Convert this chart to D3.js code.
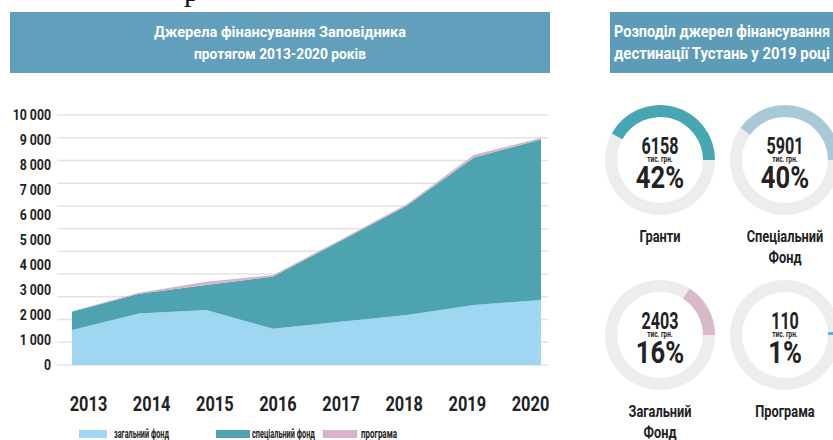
<!DOCTYPE html>
<html><head><meta charset="utf-8">
<script src="https://cdn.jsdelivr.net/npm/d3@7"></script>
<style>
html,body{margin:0;padding:0;background:#fff;}
svg{display:block;}
text{font-family:Roboto,"Noto Sans",sans-serif;font-weight:bold;}
</style></head>
<body>
<svg id="c" width="833" height="440"></svg>
<script>
// ---- data ----
const years = [2013, 2014, 2015, 2016, 2017, 2018, 2019, 2020];
const generalFund = [1400, 2060, 2200, 1450, 1730, 2000, 2403, 2600];
const specialFund = [730, 790, 1000, 2090, 3220, 4380, 5901, 6420];
const programme = [20, 40, 130, 60, 50, 60, 110, 60];
const seriesNames = ["загальний фонд", "спеціальний фонд", "програма"];
const yTicks = [0, 1000, 2000, 3000, 4000, 5000, 6000, 7000, 8000, 9000, 10000];
const leftTitle = ["Джерела фінансування Заповідника", "протягом 2013-2020 років"];
const rightTitle = ["Розподіл джерел фінансування", "дестинації Тустань у 2019 році"];
const donutNames = [["Гранти"], ["Спеціальний", "Фонд"], ["Загальний", "Фонд"], ["Програма"]];
const donutValues = [6158, 5901, 2403, 110];
const donutPercents = [42, 40, 16, 1];

const colors = ["#9fd6f1", "#4ea3b1", "#d7b3c8"];
const donutColors = ["#46a6b4", "#a9c9d9", "#d9b8c9", "#5aaee0"];

const svg = d3.select("#c");

// horizontal condensing helper (no condensed fonts installed)
function condense(sel, sx) {
  sel.each(function () {
    const t = d3.select(this);
    const x0 = +t.attr("x") || 0;
    t.attr("x", 0).attr("transform", `translate(${x0},0) scale(${sx},1)`);
  });
}

// stray glyph at the very top
svg.append("text").attr("x", 184).attr("y", 1).attr("font-size", 30)
  .style("font-family", "Liberation Serif, serif").style("font-weight", "normal")
  .attr("fill", "#111").text("р");

// ---- title bars ----
svg.append("rect").attr("x", 10).attr("y", 12).attr("width", 540).attr("height", 61).attr("fill", "#629fbc");
svg.append("rect").attr("x", 610).attr("y", 12).attr("width", 230).attr("height", 61).attr("fill", "#5d9cb9");
const ltLen = [252, 172];
svg.selectAll("text.lt").data(leftTitle).join("text").attr("class", "lt")
  .attr("x", 280).attr("y", (d, i) => 37 + i * 22).attr("text-anchor", "middle")
  .attr("font-size", 15).attr("fill", "#fff")
  .attr("textLength", (d, i) => ltLen[i]).attr("lengthAdjust", "spacingAndGlyphs").text(d => d);
svg.selectAll("text.rt").data(rightTitle).join("text").attr("class", "rt")
  .attr("x", 614).attr("y", (d, i) => 37 + i * 22)
  .attr("font-size", 16).attr("fill", "#fff")
  .attr("textLength", 216).attr("lengthAdjust", "spacingAndGlyphs").text(d => d);

// ---- area chart ----
const x = d3.scalePoint().domain(years).range([72, 541]);
const xLab = d3.scalePoint().domain(years).range([88, 530]);
const y = d3.scaleLinear().domain([0, 10000]).range([365, 115]);

// grid (12 evenly spaced rules as in the source)
const grid = d3.range(12).map(i => i * 10000 / 11);
svg.append("g").selectAll("line").data(grid).join("line")
  .attr("x1", 57).attr("x2", 548)
  .attr("y1", d => y(d)).attr("y2", d => y(d))
  .attr("stroke", "#e3e3e3").attr("stroke-width", 1.5);

const rows = years.map((yr, i) => ({year: yr, general: generalFund[i], special: specialFund[i], program: programme[i]}));
const stack = d3.stack().keys(["general", "special", "program"]);
const layers = stack(rows);
const area = d3.area().x(d => x(d.data.year)).y0(d => y(d[0])).y1(d => y(d[1]));
svg.append("g").selectAll("path").data(layers).join("path")
  .attr("d", area).attr("fill", (d, i) => colors[i]);

// y axis
const fmt = v => d3.format(",")(v).replace(/,/g, " ");
const yAxis = svg.append("g").attr("transform", "translate(51,0)")
  .call(d3.axisLeft(y).tickValues(yTicks).tickFormat(fmt).tickSize(0).tickPadding(0));
yAxis.select(".domain").remove();
yAxis.selectAll("text").attr("font-size", 14).attr("fill", "#222").attr("font-family", null);
condense(yAxis.selectAll("text"), 0.88);

// x axis labels
const xAxis = svg.append("g").attr("transform", "translate(0,404)")
  .call(d3.axisBottom(xLab).tickSize(0).tickPadding(0));
xAxis.select(".domain").remove();
xAxis.selectAll("text").attr("font-size", 19.5).attr("fill", "#222").attr("dy", "0.35em")
  .attr("font-family", null);
condense(xAxis.selectAll("text"), 0.84);

// legend
const legX = [79, 216, 323];
const legW = [28, 34, 34];
const legTextX = [114, 252, 361];
const legTextW = [55, 63, 36];
const leg = svg.append("g");
seriesNames.forEach((n, i) => {
  leg.append("rect").attr("x", legX[i]).attr("y", 430).attr("width", legW[i]).attr("height", 8).attr("fill", colors[i]);
  leg.append("text").attr("x", legTextX[i]).attr("y", 438)
    .attr("font-size", 13).attr("fill", "#222")
    .attr("textLength", legTextW[i]).attr("lengthAdjust", "spacingAndGlyphs").text(n);
});

// ---- donuts ----
const centers = [[660, 160], [785, 160], [660, 335], [785, 335]];
const rOut = 55, rIn = 43;
const arc = d3.arc().innerRadius(rIn).outerRadius(rOut);
donutValues.forEach((v, i) => {
  const g = svg.append("g").attr("transform", `translate(${centers[i][0]},${centers[i][1]})`);
  g.append("path").attr("d", arc({startAngle: 0, endAngle: 2 * Math.PI})).attr("fill", "#ededed");
  const share = donutPercents[i] / 100;
  g.append("path").attr("d", arc({startAngle: Math.PI / 2 - share * 2 * Math.PI, endAngle: Math.PI / 2}))
    .attr("fill", donutColors[i]);
  const t1 = g.append("text").attr("y", -6).attr("text-anchor", "middle").attr("font-size", 23).attr("fill", "#222").text(v);
  const t2 = g.append("text").attr("y", 2).attr("text-anchor", "middle").attr("font-size", 8.5).attr("fill", "#222").text("тис. грн.");
  const t3 = g.append("text").attr("y", 28).attr("text-anchor", "middle").attr("font-size", 32).attr("fill", "#222").text(donutPercents[i] + "%");
  condense(t1, 0.7); condense(t2, 0.75); condense(t3, 0.8);
  donutNames[i].forEach((ln, j) => {
    const t = g.append("text").attr("y", 82 + j * 21).attr("text-anchor", "middle").attr("font-size", 16)
      .attr("fill", "#222").text(ln);
    condense(t, 0.8);
  });
});
</script>
</body></html>
